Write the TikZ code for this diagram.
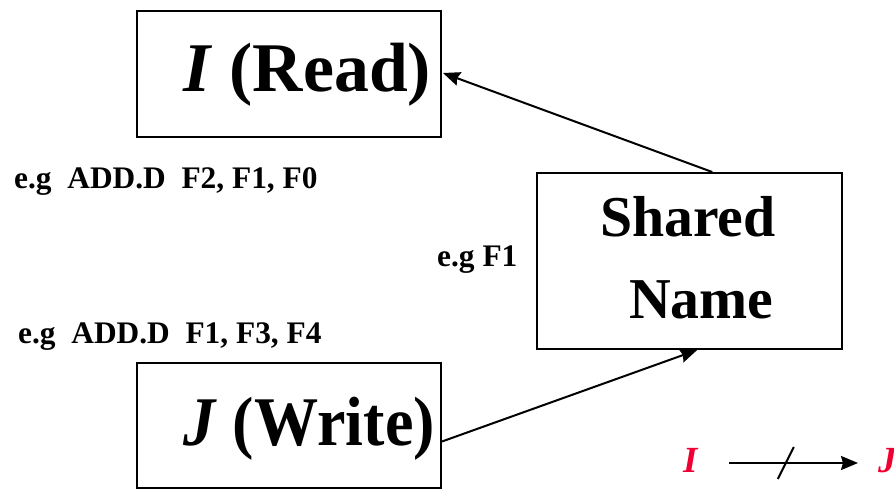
\documentclass[tikz,border=0pt]{standalone}
\usepackage{fontspec}
\setmainfont{Liberation Serif}
\usetikzlibrary{arrows.meta}
\usetikzlibrary{calc}
\definecolor{legendred}{RGB}{240,0,50}
\tikzset{
	box/.style={draw,line width=2bp,inner sep=0pt},
	bigtxt/.style={inner sep=0pt,anchor=base west,font=\fontsize{70}{84}\selectfont\bfseries},
	midtxt/.style={inner sep=0pt,anchor=base west,font=\fontsize{58}{70}\selectfont\bfseries},
	egtxt/.style={inner sep=0pt,anchor=base west,font=\fontsize{31.5}{38}\selectfont\bfseries},
	redtxt/.style={inner sep=0pt,anchor=base west,text=legendred,font=\fontsize{37}{44}\selectfont\bfseries\itshape},
	arr/.style={line width=2bp,-{Stealth[length=17bp,width=14bp,inset=2bp]}}
}
\newcommand{\gap}{\hspace{0.5em}}
\begin{document}
\begin{tikzpicture}[x=1bp,y=-1bp]
	\useasboundingbox (0,0) rectangle (894,490);
	% the two instructions
	\node (rd) [box,minimum width=304bp,minimum height=126bp] at (289,74) {};
	\node (rdtxt) [bigtxt] at (183,92) {\textit{I} (Read)};
	\node (wr) [box,minimum width=304bp,minimum height=125bp] at (289,425.5) {};
	\node (wrtxt) [bigtxt,xscale=0.92,transform shape] at (183,445) {\textit{J} (Write)};
	% the name they share
	\node (sh) [box,minimum width=305bp,minimum height=176bp] at (689.5,261) {};
	\node (shtxt) [midtxt] at (600,237) {Shared};
	\node (nmtxt) [midtxt] at (629,319) {Name};
	\draw[arr] ($(sh.north west)!0.574!(sh.north east)$) -- ($(rd.east)+(1,-1)$);
	\draw[arr] ($(wr.east)+(0,16)$) -- ($(sh.south west)!0.525!(sh.south east)$);
	% examples
	\node (egi) [egtxt] at (14,189) {e.g\gap ADD.D\gap F2, F1, F0};
	\node (egj) [egtxt] at (18,344) {e.g\gap ADD.D\gap F1, F3, F4};
	\node (egf) [egtxt] at (437,267) {e.g F1};
	% legend
	\node (li) [redtxt] at (683,472) {I};
	\node (lj) [redtxt] at (878,472) {J};
	\coordinate (la) at (729,463);
	\coordinate (lb) at (858,463);
	\draw[arr] (la) -- (lb);
	\draw[line width=2bp] ($(la)!0.44!(lb)$) +(-8,16) -- +(8,-16);
\end{tikzpicture}
\end{document}
